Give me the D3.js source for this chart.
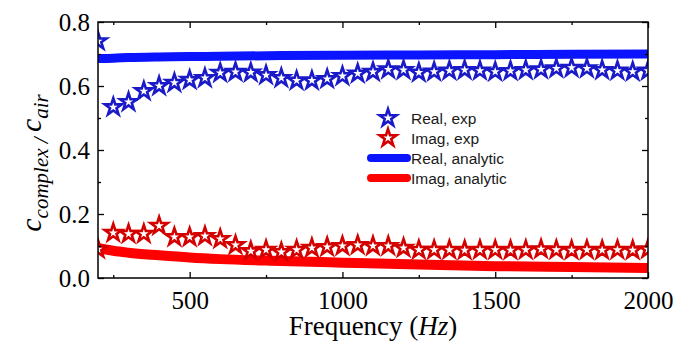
<!DOCTYPE html>
<html>
<head>
<meta charset="utf-8">
<script src="https://cdn.jsdelivr.net/npm/d3@7"></script>
<style>
  html, body { margin: 0; padding: 0; background: #fff; }
  svg { display: block; }
  .tick text { font-family: "Liberation Serif", "Times New Roman", serif; }
</style>
</head>
<body>
<div id="chart"></div>
<script>
// experimental points, every 50 Hz from 200 to 2000
const freqExp = d3.range(200, 2001, 50);
const realExp = [0.74, 0.534, 0.55, 0.584, 0.60, 0.61, 0.619, 0.625, 0.641, 0.644,
  0.642, 0.634, 0.625, 0.617, 0.617, 0.622, 0.631, 0.639, 0.644, 0.652,
  0.65, 0.642, 0.645, 0.648, 0.65, 0.648, 0.645, 0.647, 0.65, 0.652,
  0.655, 0.657, 0.655, 0.65, 0.648, 0.645, 0.648];
const imagExp = [0.09, 0.141, 0.138, 0.138, 0.163, 0.128, 0.128, 0.131, 0.122, 0.103,
  0.084, 0.088, 0.081, 0.088, 0.094, 0.097, 0.1, 0.103, 0.1, 0.1,
  0.094, 0.088, 0.088, 0.088, 0.087, 0.088, 0.088, 0.087, 0.088, 0.09,
  0.088, 0.087, 0.088, 0.087, 0.088, 0.087, 0.09];

// analytic curves
const freqAna = [200, 250, 300, 400, 500, 600, 800, 1000, 1250, 1500, 1750, 2000];
const realAna = [0.686, 0.687, 0.689, 0.691, 0.692, 0.693, 0.695, 0.696, 0.697, 0.698, 0.699, 0.700];
const imagAna = [0.094, 0.085, 0.079, 0.071, 0.064, 0.059, 0.053, 0.048, 0.042, 0.037, 0.034, 0.031];

const xTicks = [500, 1000, 1500, 2000];
const xMinor = [250, 750, 1250, 1750];
const yTicks = [0, 0.2, 0.4, 0.6, 0.8];
const yMinor = [0.1, 0.3, 0.5, 0.7];

const legendLabels = ["Real, exp", "Imag, exp", "Real, analytic", "Imag, analytic"];

const W = 676, H = 347;
const m = { left: 98, right: 648, top: 22, bottom: 278 };
const serif = "Liberation Serif, Times New Roman, serif";

const x = d3.scaleLinear().domain([200, 2000]).range([m.left, m.right]);
const y = d3.scaleLinear().domain([0, 0.8]).range([m.bottom, m.top]);

const blueStar = "#1a1ac8", redStar = "#d40000";
const blueLine = "#0a14ff", redLine = "#ff0000";

const svg = d3.select("#chart").append("svg")
  .attr("width", W)
  .attr("height", H);

svg.append("clipPath").attr("id", "clip")
  .append("rect")
    .attr("x", m.left).attr("y", m.top)
    .attr("width", m.right - m.left).attr("height", m.bottom - m.top);

const plot = svg.append("g").attr("clip-path", "url(#clip)");

const line = d3.line()
  .x(d => x(d[0]))
  .y(d => y(d[1]))
  .curve(d3.curveMonotoneX);

plot.append("path")
  .datum(freqAna.map((f, i) => [f, realAna[i]]))
  .attr("d", line)
  .attr("fill", "none")
  .attr("stroke", blueLine)
  .attr("stroke-width", 9);

plot.append("path")
  .datum(freqAna.map((f, i) => [f, imagAna[i]]))
  .attr("d", line)
  .attr("fill", "none")
  .attr("stroke", redLine)
  .attr("stroke-width", 10);

const star = d3.symbol().type(d3.symbolStar).size(90);

function drawStars(vals, color) {
  plot.append("g").selectAll("path")
    .data(freqExp.map((f, i) => [f, vals[i]]))
    .join("path")
      .attr("d", star)
      .attr("transform", d => "translate(" + x(d[0]) + "," + y(d[1]) + ")")
      .attr("fill", "#fff")
      .attr("stroke", color)
      .attr("stroke-width", 2.6)
      .attr("stroke-linejoin", "miter");
}
drawStars(realExp, blueStar);
drawStars(imagExp, redStar);

// axes, ticks pointing inward
const fmtY = d3.format(".1f");
const fmtX = d3.format("d");

function styleAxis(g) {
  g.attr("font-family", serif).attr("font-size", 25);
  g.select(".domain").remove();
  g.selectAll(".tick line").attr("stroke", "#000").attr("stroke-width", 1.3);
  g.selectAll(".tick text").attr("fill", "#000");
}

svg.append("g")
  .attr("transform", "translate(0," + m.bottom + ")")
  .call(d3.axisBottom(x).tickValues(xTicks).tickSize(-6).tickPadding(13).tickFormat(fmtX))
  .call(styleAxis);
svg.append("g")
  .attr("transform", "translate(0," + m.bottom + ")")
  .call(d3.axisBottom(x).tickValues(xMinor).tickSize(-3).tickFormat(""))
  .call(styleAxis);
svg.append("g")
  .attr("transform", "translate(0," + m.top + ")")
  .call(d3.axisTop(x).tickValues(xTicks).tickSize(-6).tickFormat(""))
  .call(styleAxis);
svg.append("g")
  .attr("transform", "translate(0," + m.top + ")")
  .call(d3.axisTop(x).tickValues(xMinor).tickSize(-3).tickFormat(""))
  .call(styleAxis);

svg.append("g")
  .attr("transform", "translate(" + m.left + ",0)")
  .call(d3.axisLeft(y).tickValues(yTicks).tickSize(-6).tickPadding(8).tickFormat(fmtY))
  .call(styleAxis);
svg.append("g")
  .attr("transform", "translate(" + m.left + ",0)")
  .call(d3.axisLeft(y).tickValues(yMinor).tickSize(-3).tickFormat(""))
  .call(styleAxis);
svg.append("g")
  .attr("transform", "translate(" + m.right + ",0)")
  .call(d3.axisRight(y).tickValues(yTicks).tickSize(-6).tickFormat(""))
  .call(styleAxis);
svg.append("g")
  .attr("transform", "translate(" + m.right + ",0)")
  .call(d3.axisRight(y).tickValues(yMinor).tickSize(-3).tickFormat(""))
  .call(styleAxis);

// frame
svg.append("rect")
  .attr("x", m.left).attr("y", m.top)
  .attr("width", m.right - m.left).attr("height", m.bottom - m.top)
  .attr("fill", "none")
  .attr("stroke", "#000")
  .attr("stroke-width", 1.5);

// axis titles
const xt = svg.append("text")
  .attr("x", (m.left + m.right) / 2)
  .attr("y", 335)
  .attr("text-anchor", "middle")
  .attr("font-family", serif)
  .attr("font-size", 27);
xt.append("tspan").text("Frequency (");
xt.append("tspan").attr("font-style", "italic").text("Hz");
xt.append("tspan").text(")");

const yt = svg.append("text")
  .attr("transform", "translate(41,163) rotate(-90)")
  .attr("text-anchor", "middle")
  .attr("font-family", serif)
  .attr("font-style", "italic");
yt.append("tspan").attr("font-size", 30).text("c");
yt.append("tspan").attr("font-size", 21).attr("dy", 7).text("complex / ");
yt.append("tspan").attr("font-size", 30).attr("dy", -7).text("c");
yt.append("tspan").attr("font-size", 21).attr("dy", 7).text("air");

// legend
const legend = svg.append("g").attr("transform", "translate(367,118)");
const rowH = 20;
legendLabels.forEach((lab, i) => {
  const row = legend.append("g").attr("transform", "translate(0," + i * rowH + ")");
  if (i < 2) {
    row.append("path")
      .attr("d", star)
      .attr("transform", "translate(21,0)")
      .attr("fill", "#fff")
      .attr("stroke", i === 0 ? blueStar : redStar)
      .attr("stroke-width", 2.6);
  } else {
    row.append("line")
      .attr("x1", 4).attr("x2", 40)
      .attr("stroke", i === 2 ? blueLine : redLine)
      .attr("stroke-width", 8)
      .attr("stroke-linecap", "round");
  }
  row.append("text")
    .attr("x", 44)
    .attr("y", 5.5)
    .attr("fill", "#1a1a1a")
    .attr("font-family", "Liberation Sans, Arial, sans-serif")
    .attr("font-size", 15.5)
    .text(lab);
});
</script>
</body>
</html>
